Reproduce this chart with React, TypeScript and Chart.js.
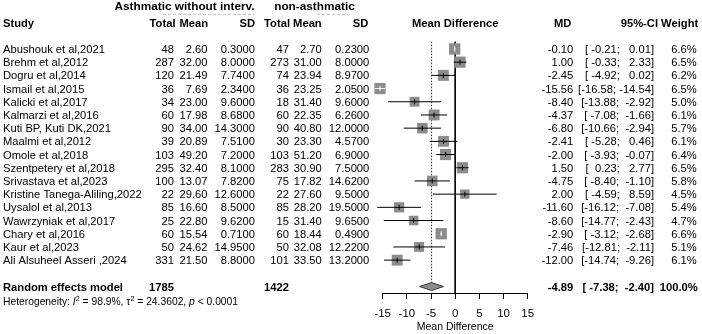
import React, { useEffect, useRef } from 'react';
import { Chart, registerables } from 'chart.js';

Chart.register(...registerables);

// ---- study data ----
const studies = [
  'Abushouk et al,2021',
  'Brehm et al,2012',
  'Dogru et al,2014',
  'Ismail et al,2015',
  'Kalicki et al,2017',
  'Kalmarzi et al,2016',
  'Kuti BP, Kuti DK,2021',
  'Maalmi et al,2012',
  'Omole et al,2018',
  'Szentpetery et al,2018',
  'Srivastava et al,2023',
  'Kristine Tanega-Aliling,2022',
  'Uysalol et al,2013',
  'Wawrzyniak et al,2017',
  'Chary et al,2016',
  'Kaur et al,2023',
  'Ali Alsuheel Asseri ,2024',
];

// Asthmatic without intervention
const totalA = [48, 287, 120, 36, 34, 60, 90, 39, 103, 295, 100, 22, 85, 25, 60, 50, 331];
const meanA = [2.6, 32.0, 21.49, 7.69, 23.0, 17.98, 34.0, 20.89, 49.2, 32.4, 13.07, 29.6, 16.6, 22.8, 15.54, 24.62, 21.5];
const sdA = [0.3, 8.0, 7.74, 2.34, 9.6, 8.68, 14.3, 7.51, 7.2, 8.1, 7.82, 12.6, 8.5, 9.62, 0.71, 14.95, 8.8];

// Non-asthmatic
const totalN = [47, 273, 74, 36, 18, 60, 90, 30, 103, 283, 75, 22, 85, 15, 60, 50, 101];
const meanN = [2.7, 31.0, 23.94, 23.25, 31.4, 22.35, 40.8, 23.3, 51.2, 30.9, 17.82, 27.6, 28.2, 31.4, 18.44, 32.08, 33.5];
const sdN = [0.23, 8.0, 8.97, 2.05, 9.6, 6.26, 12.0, 4.57, 6.9, 7.5, 14.62, 9.5, 19.5, 9.65, 0.49, 12.22, 13.2];

// Mean differences with 95% confidence intervals and weights (%)
const md = [-0.1, 1.0, -2.45, -15.56, -8.4, -4.37, -6.8, -2.41, -2.0, 1.5, -4.75, 2.0, -11.6, -8.6, -2.9, -7.46, -12.0];
const ciLow = [-0.21, -0.33, -4.92, -16.58, -13.88, -7.08, -10.66, -5.28, -3.93, 0.23, -8.4, -4.59, -16.12, -14.77, -3.12, -12.81, -14.74];
const ciHigh = [0.01, 2.33, 0.02, -14.54, -2.92, -1.66, -2.94, 0.46, -0.07, 2.77, -1.1, 8.59, -7.08, -2.43, -2.68, -2.11, -9.26];
const weights = [6.6, 6.5, 6.2, 6.5, 5.0, 6.1, 5.7, 6.1, 6.4, 6.5, 5.8, 4.5, 5.4, 4.7, 6.6, 5.1, 6.1];

// Random effects model
const pooledTotalA = 1785;
const pooledTotalN = 1422;
const pooledMD = -4.89;
const pooledLow = -7.38;
const pooledHigh = -2.4;
const pooledWeight = 100.0;

// Heterogeneity statistics
const hetI2 = '98.9%';
const hetTau2 = '24.3602';
const hetP = '< 0.0001';

const xTicks = [-15, -10, -5, 0, 5, 10, 15];

// ---- layout ----
const W = 702;
const H = 334;
const FONT = '"Liberation Sans", Arial, Helvetica, sans-serif';
const ROW_MIN = -3.71;
const ROW_MAX = 18.49;
const SUMMARY_ROW = studies.length + 1;
const HEADER_ROW = -2;
const GROUP_ROW = -3.26;
const HET_ROW = 19.1;
const LINE_TOP_ROW = -0.55;
const DIAMOND_HALF = 0.3;
const TEXT_SIZE = 11.2;

const COL = {
  study: 3,
  totA: 174,
  meanA: 207.5,
  sdA: 255,
  totN: 289,
  meanN: 321.7,
  sdN: 369.3,
  md: 573.3,
  ci: 654,
  w: 696.7,
};

const BOX_GREY = '#8c8c8c';

const boxSide = (w: number) => 4.4 * Math.sqrt(w);

const ciText = (lo: number, hi: number) =>
  '[' + lo.toFixed(2).padStart(6, ' ') + '; ' + hi.toFixed(2).padStart(6, ' ') + ']';

// whether the confidence interval fits inside its square
const ciInsideBox = (chart: any, i: number) => {
  const xs = chart.scales.x;
  if (!xs) return false;
  const span = Math.abs(xs.getPixelForValue(ciHigh[i]) - xs.getPixelForValue(ciLow[i]));
  return span < boxSide(weights[i]);
};

const forestText = {
  id: 'forestText',
  afterDraw(chart: any) {
    const ctx: CanvasRenderingContext2D = chart.ctx;
    const ys = chart.scales.y;
    const xs = chart.scales.x;
    const yAt = (r: number) => ys.getPixelForValue(r);
    ctx.save();
    ctx.fillStyle = '#000';
    ctx.textBaseline = 'alphabetic';

    const put = (t: string, x: number, r: number, align: CanvasTextAlign, bold = false, size = TEXT_SIZE) => {
      ctx.font = `${bold ? 'bold ' : ''}${size}px ${FONT}`;
      ctx.textAlign = align;
      ctx.fillText(t, x, yAt(r) + size * 0.36);
    };

    // group titles
    put('Asthmatic without interv.', 184.5, GROUP_ROW, 'center', true, 11.8);
    put('non-asthmatic', 314.5, GROUP_ROW, 'center', true, 11.8);
    ctx.save();
    ctx.strokeStyle = '#c4c4c4';
    ctx.lineWidth = 1;
    ctx.setLineDash([3, 2]);
    const uy = Math.round(yAt(GROUP_ROW) + 8) + 0.5;
    ctx.beginPath();
    ctx.moveTo(163, uy);
    ctx.lineTo(255, uy);
    ctx.moveTo(317, uy);
    ctx.lineTo(352, uy);
    ctx.stroke();
    ctx.restore();

    // column headers
    put('Study', COL.study, HEADER_ROW, 'left', true);
    put('Total', COL.totA + 1.5, HEADER_ROW, 'right', true);
    put('Mean', COL.meanA + 0.5, HEADER_ROW, 'right', true);
    put('SD', COL.sdA, HEADER_ROW, 'right', true);
    put('Total', COL.totN + 1, HEADER_ROW, 'right', true);
    put('Mean', COL.meanN, HEADER_ROW, 'right', true);
    put('SD', COL.sdN - 1, HEADER_ROW, 'right', true);
    put('Mean Difference', xs.getPixelForValue(0), HEADER_ROW, 'center', true);
    put('MD', COL.md - 2, HEADER_ROW, 'right', true);
    put('95%-CI', COL.ci + 4, HEADER_ROW, 'right', true);
    put('Weight', COL.w + 1.5, HEADER_ROW, 'right', true);

    // study rows
    studies.forEach((name, i) => {
      put(name, COL.study, i, 'left');
      put(String(totalA[i]), COL.totA, i, 'right');
      put(meanA[i].toFixed(2), COL.meanA, i, 'right');
      put(sdA[i].toFixed(4), COL.sdA, i, 'right');
      put(String(totalN[i]), COL.totN, i, 'right');
      put(meanN[i].toFixed(2), COL.meanN, i, 'right');
      put(sdN[i].toFixed(4), COL.sdN, i, 'right');
      put(md[i].toFixed(2), COL.md, i, 'right');
      put(ciText(ciLow[i], ciHigh[i]), COL.ci, i, 'right');
      put(weights[i].toFixed(1) + '%', COL.w, i, 'right');
    });

    // summary row
    put('Random effects model', COL.study, SUMMARY_ROW, 'left', true);
    put(String(pooledTotalA), COL.totA, SUMMARY_ROW, 'right', true);
    put(String(pooledTotalN), COL.totN, SUMMARY_ROW, 'right', true);
    put(pooledMD.toFixed(2), COL.md, SUMMARY_ROW, 'right', true);
    put(ciText(pooledLow, pooledHigh), COL.ci, SUMMARY_ROW, 'right', true);
    put(pooledWeight.toFixed(1) + '%', COL.w + 1, SUMMARY_ROW, 'right', true);

    // heterogeneity line with italics and superscripts
    const base = yAt(HET_ROW) + 3.7;
    let x = COL.study;
    ctx.textAlign = 'left';
    const parts: { t: string; style?: string; sup?: boolean }[] = [
      { t: 'Heterogeneity: ' },
      { t: 'I', style: 'italic' },
      { t: '2', sup: true },
      { t: ' = ' + hetI2 + ', ' },
      { t: '\u03c4' },
      { t: '2', sup: true },
      { t: ' = ' + hetTau2 + ', ' },
      { t: 'p', style: 'italic' },
      { t: ' ' + hetP },
    ];
    parts.forEach((p) => {
      const size = p.sup ? 7.2 : 10.3;
      ctx.font = `${p.style ? p.style + ' ' : ''}${size}px ${FONT}`;
      ctx.fillText(p.t, x, p.sup ? base - 4 : base);
      x += ctx.measureText(p.t).width;
    });

    ctx.restore();
  },
};

export default function App() {
  const ref = useRef<HTMLCanvasElement | null>(null);

  useEffect(() => {
    if (!ref.current) return;

    const rows = studies.map((_, i) => i);

    const ciDatasets = rows.map((i) => ({
      type: 'line' as const,
      data: [
        { x: ciLow[i], y: i },
        { x: ciHigh[i], y: i },
      ],
      borderColor: (c: any) => (ciInsideBox(c.chart, i) ? '#ffffff' : '#000000'),
      borderWidth: 1,
      pointRadius: 0,
      clip: false as any,
      order: 4,
    }));

    const chart = new Chart(ref.current, {
      type: 'scatter',
      data: {
        datasets: [
          // centre marks on each estimate
          {
            type: 'scatter',
            data: rows.map((i) => ({ x: md[i], y: i })),
            pointStyle: 'line',
            rotation: 90,
            pointRadius: 2.5,
            borderWidth: 1,
            borderColor: (c: any) => (ciInsideBox(c.chart, c.dataIndex) ? '#ffffff' : '#000000'),
            clip: false as any,
            order: 2,
          },
          ...ciDatasets,
          // study squares, sized by weight
          {
            type: 'scatter',
            data: rows.map((i) => ({ x: md[i], y: i })),
            pointStyle: 'rect',
            pointRadius: rows.map((i) => boxSide(weights[i]) / Math.SQRT2),
            backgroundColor: BOX_GREY,
            borderWidth: 0,
            clip: false as any,
            order: 6,
          },
          // pooled estimate diamond
          {
            type: 'line',
            data: [
              { x: pooledLow, y: SUMMARY_ROW },
              { x: pooledMD, y: SUMMARY_ROW - DIAMOND_HALF },
              { x: pooledHigh, y: SUMMARY_ROW },
              { x: pooledMD, y: SUMMARY_ROW + DIAMOND_HALF },
              { x: pooledLow, y: SUMMARY_ROW },
            ],
            fill: 'shape',
            backgroundColor: BOX_GREY,
            borderColor: '#3a3a3a',
            borderWidth: 1,
            pointRadius: 0,
            tension: 0,
            clip: false as any,
            order: 3,
          },
          // line of no effect
          {
            type: 'line',
            data: [
              { x: 0, y: LINE_TOP_ROW },
              { x: 0, y: ROW_MAX },
            ],
            borderColor: '#000',
            borderWidth: 1,
            pointRadius: 0,
            clip: false as any,
            order: 10,
          },
          // pooled estimate reference line
          {
            type: 'line',
            data: [
              { x: pooledMD, y: LINE_TOP_ROW },
              { x: pooledMD, y: SUMMARY_ROW },
            ],
            borderColor: '#333',
            borderWidth: 1,
            borderDash: [1.5, 1.5],
            pointRadius: 0,
            clip: false as any,
            order: 9,
          },
        ] as any,
      },
      options: {
        responsive: false,
        animation: false,
        events: [],
        layout: {
          autoPadding: false,
          padding: { left: 382.7, right: W - 527.7, top: 0, bottom: 0 },
        },
        plugins: {
          legend: { display: false },
          tooltip: { enabled: false },
        },
        scales: {
          x: {
            type: 'linear',
            min: xTicks[0],
            max: xTicks[xTicks.length - 1],
            afterFit: (s: any) => {
              s.height = 41;
            },
            afterBuildTicks: (s: any) => {
              s.ticks = xTicks.map((v) => ({ value: v }));
            },
            ticks: {
              color: '#000',
              font: { family: FONT, size: 11.5 },
              padding: 8,
              maxRotation: 0,
              autoSkip: false,
            },
            grid: {
              drawOnChartArea: false,
              drawTicks: true,
              tickLength: 6,
              color: '#000',
              lineWidth: 1,
            },
            border: { display: true, color: '#000', width: 1 },
            title: {
              display: true,
              text: 'Mean Difference',
              color: '#000',
              font: { family: FONT, size: 10.5 },
              padding: { top: 0, bottom: 1 },
            },
          },
          y: {
            type: 'linear',
            reverse: true,
            min: ROW_MIN,
            max: ROW_MAX,
            display: false,
          },
        },
      } as any,
      plugins: [forestText],
    });

    return () => chart.destroy();
  }, []);

  return (
    <div style={{ position: 'fixed', left: 0, top: 0, width: W, height: H, background: '#fff' }}>
      <canvas ref={ref} width={W} height={H} style={{ display: 'block', width: W, height: H }} />
    </div>
  );
}
